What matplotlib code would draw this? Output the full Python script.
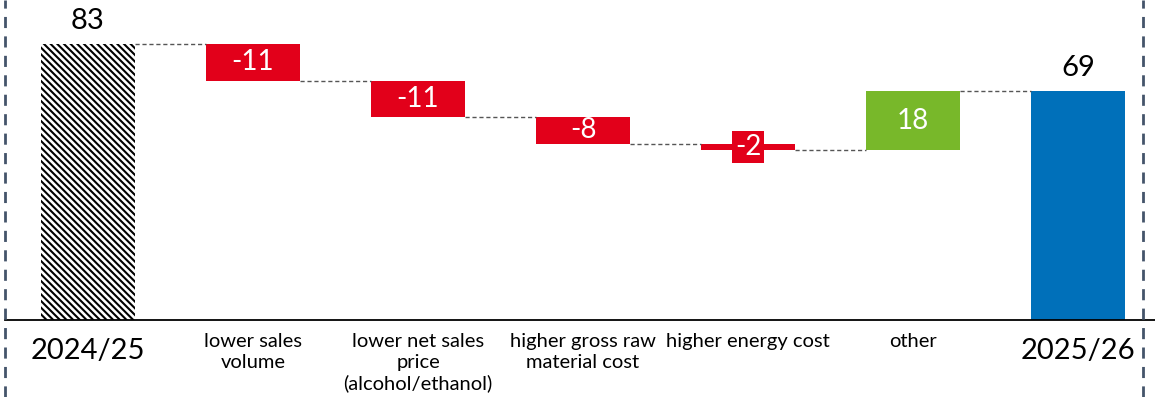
import matplotlib
matplotlib.use("Agg")
import matplotlib.pyplot as plt
from matplotlib.lines import Line2D

plt.rcParams['font.family'] = ['Lato', 'DejaVu Sans']
plt.rcParams['hatch.linewidth'] = 1.5

categories = ["2024/25", "lower sales\nvolume", "lower net sales\nprice\n(alcohol/ethanol)",
              "higher gross raw\nmaterial cost", "higher energy cost", "other", "2025/26"]
start_value = 83
deltas = [-11, -11, -8, -2, 18]
end_value = 69
delta_labels = ["-11", "-11", "-8", "-2", "18"]

RED = "#E2001A"
GREEN = "#78B82A"
BLUE = "#0070BA"

fig = plt.figure(figsize=(11.55, 3.97), dpi=100)
ax = fig.add_axes([0, 0, 1, 1])
ax.set_xlim(-88 / 165, (1155 - 88) / 165)
ax.set_ylim(-77 / 3.325, 320 / 3.325)
ax.axis('off')

w = 0.565
# start bar (hatched)
ax.bar(0, start_value, width=w, color='white', edgecolor='black', hatch='\\' * 5, linewidth=0)
ax.text(0, start_value + 3, str(start_value), ha='center', va='bottom', fontsize=21, color='black')

level = start_value
for i, d in enumerate(deltas, start=1):
    new = level + d
    color = GREEN if d > 0 else RED
    bottom = min(level, new)
    ax.bar(i, abs(d), bottom=bottom, width=w, color=color, linewidth=0)
    yc = bottom + abs(d) / 2
    if abs(d) < 4:
        ax.text(i, yc, delta_labels[i - 1], ha='center', va='center', fontsize=20, color='white',
                bbox=dict(boxstyle='square,pad=0.1', fc=color, ec='none'))
    else:
        ax.text(i, yc, delta_labels[i - 1], ha='center', va='center', fontsize=20, color='white')
    # connector
    ax.plot([i - 1 + w / 2, i - w / 2], [level, level], color='#555555', lw=1, ls=(0, (3, 2)))
    level = new

n = len(categories) - 1
ax.plot([n - 1 + w / 2, n - w / 2], [level, level], color='#555555', lw=1, ls=(0, (3, 2)))
ax.bar(n, end_value, width=w, color=BLUE, linewidth=0)
ax.text(n, end_value + 3, str(end_value), ha='center', va='bottom', fontsize=21, color='black')

# axis line
ax.plot([-83 / 165, 1155 / 165], [0, 0], color='black', lw=1.3)

# category labels
for i, c in enumerate(categories):
    if i in (0, n):
        ax.text(i, -5.3, c, ha='center', va='top', fontsize=21, color='black')
    else:
        ax.text(i, -4.0, c, ha='center', va='top', fontsize=14.5, color='black', linespacing=1.25)

# dashed vertical frame lines
for xp in (5, 1143):
    fig.add_artist(Line2D([xp / 1155, xp / 1155], [0, 1], color='#44546A', lw=2, ls=(0, (4, 3)),
                          transform=fig.transFigure))

fig.savefig("out.png", dpi=100)
